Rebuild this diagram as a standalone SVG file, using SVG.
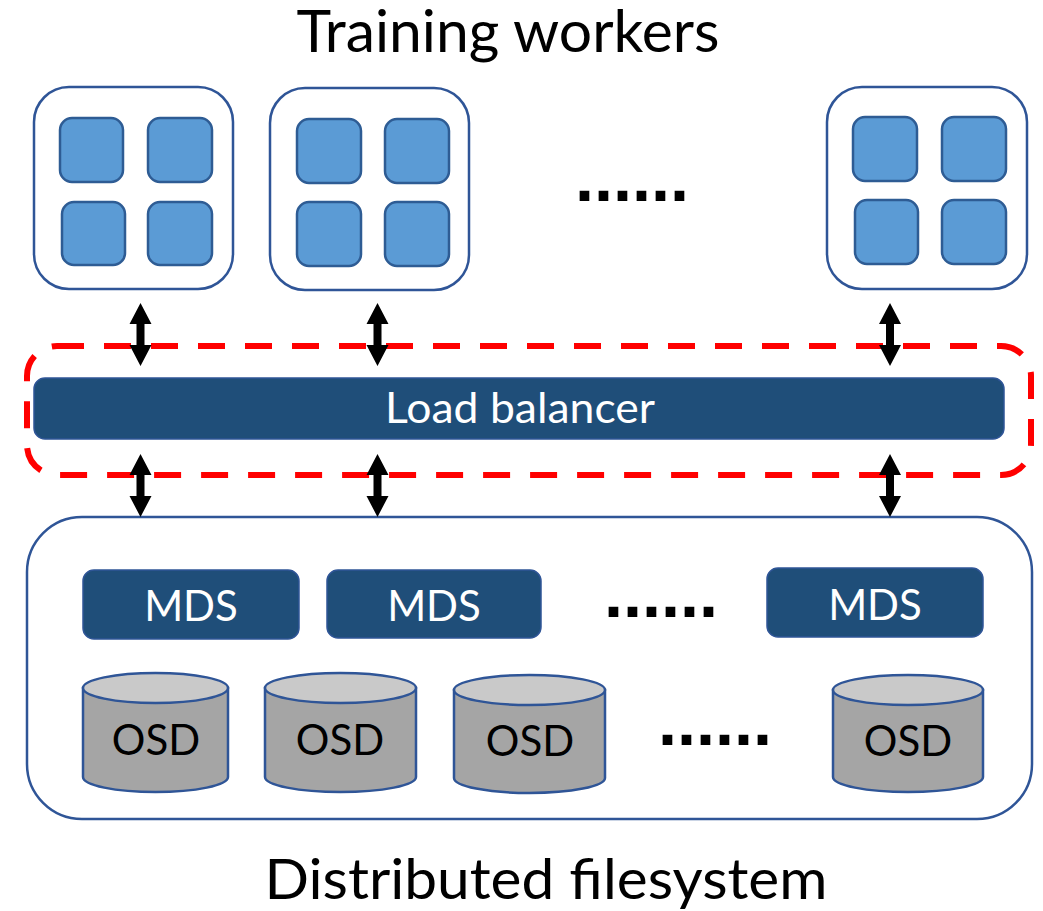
<svg xmlns="http://www.w3.org/2000/svg" width="1043" height="911" viewBox="0 0 1043 911">
  <defs>
    <style>
      .label { font-family: "Lato", "Liberation Sans", sans-serif; text-anchor: middle; }
      .title { font-size: 58px; fill: #000; }
      .caption { font-size: 56px; fill: #000; }
      .white { fill: #fff; font-size: 42px; }
      .dark { fill: #000; font-size: 42px; }
      .dots { font-family: "Liberation Sans", sans-serif; font-weight: bold; font-size: 68px; fill: #000; }
      .worker { fill: #fff; stroke: #2F5597; stroke-width: 2.5; }
      .core { fill: #5B9BD5; stroke: #2E5C94; stroke-width: 2.5; }
      .bar { fill: #1F4E79; stroke: #2F5597; stroke-width: 1.5; }
      .fs { fill: #fff; stroke: #2F5597; stroke-width: 2.5; }
      .cyl-body { fill: #A5A5A5; stroke: #2F5597; stroke-width: 2.5; }
      .cyl-top { fill: #C9C9C9; stroke: #2F5597; stroke-width: 2.5; }
      .group-frame { fill: none; stroke: #FF0000; stroke-width: 6; stroke-dasharray: 27 20; }
    </style>
    <!-- double-headed arrow, 63 px long, centred on x=0, starting at y=0 -->
    <path id="dbl-arrow" d="M0,0 L11,21 L4,21 L4,42 L11,42 L0,63 L-11,42 L-4,42 L-4,21 L-11,21 Z" fill="#000"/>
  </defs>

  <rect width="1043" height="911" fill="#fff"/>

  <text class="label title" x="508" y="52" textLength="423" lengthAdjust="spacingAndGlyphs">Training workers</text>

  <!-- worker nodes -->
  <g id="worker-1">
    <rect class="worker" x="34" y="87" width="199" height="202" rx="35"/>
    <rect class="core" x="60" y="118" width="63" height="64" rx="12"/>
    <rect class="core" x="148" y="118" width="64" height="64" rx="12"/>
    <rect class="core" x="62" y="202" width="63" height="63" rx="12"/>
    <rect class="core" x="148" y="202" width="64" height="63" rx="12"/>
  </g>
  <g id="worker-2">
    <rect class="worker" x="270" y="88" width="199" height="202" rx="35"/>
    <rect class="core" x="297" y="119" width="64" height="64" rx="12"/>
    <rect class="core" x="385" y="119" width="64" height="64" rx="12"/>
    <rect class="core" x="297" y="202" width="64" height="64" rx="12"/>
    <rect class="core" x="385" y="202" width="64" height="64" rx="12"/>
  </g>
  <text class="dots" x="575" y="201" textLength="114" lengthAdjust="spacingAndGlyphs">......</text>
  <g id="worker-n">
    <rect class="worker" x="827" y="87" width="200" height="202" rx="35"/>
    <rect class="core" x="853" y="117" width="64" height="64" rx="12"/>
    <rect class="core" x="942" y="117" width="64" height="64" rx="12"/>
    <rect class="core" x="855" y="200" width="63" height="64" rx="12"/>
    <rect class="core" x="942" y="200" width="64" height="64" rx="12"/>
  </g>

  <!-- load balancer and its dashed grouping frame -->
  <g id="load-balancer">
    <rect class="bar" x="34" y="378" width="970" height="61" rx="11"/>
    <text class="label white" x="520" y="423" textLength="270" lengthAdjust="spacingAndGlyphs">Load balancer</text>
  </g>
  <rect id="balancer-frame" class="group-frame" x="27" y="346" width="1004" height="129" rx="30"/>

  <!-- distributed filesystem -->
  <g id="filesystem">
    <rect class="fs" x="27" y="517" width="1005" height="302" rx="55"/>
  </g>
  <g id="mds-1">
    <rect class="bar" x="83" y="570" width="216" height="69" rx="11"/>
    <text class="label white" x="191" y="621">MDS</text>
  </g>
  <g id="mds-2">
    <rect class="bar" x="327" y="570" width="214" height="68" rx="11"/>
    <text class="label white" x="434" y="621">MDS</text>
  </g>
  <text class="dots" x="604" y="617" textLength="114" lengthAdjust="spacingAndGlyphs">......</text>
  <g id="mds-n">
    <rect class="bar" x="767" y="568" width="216" height="69" rx="11"/>
    <text class="label white" x="875" y="620">MDS</text>
  </g>

  <g id="osd-1">
    <path class="cyl-body" d="M83,688 L83,777 A72.5,15 0 0 0 228,777 L228,688 Z"/>
    <ellipse class="cyl-top" cx="155.5" cy="688" rx="72.5" ry="15"/>
    <text class="label dark" x="156" y="755">OSD</text>
  </g>
  <g id="osd-2">
    <path class="cyl-body" d="M265,688 L265,777 A75.5,15 0 0 0 416,777 L416,688 Z"/>
    <ellipse class="cyl-top" cx="340.5" cy="688" rx="75.5" ry="15"/>
    <text class="label dark" x="340" y="755">OSD</text>
  </g>
  <g id="osd-3">
    <path class="cyl-body" d="M454,690 L454,778 A75.5,15 0 0 0 605,778 L605,690 Z"/>
    <ellipse class="cyl-top" cx="529.5" cy="690" rx="75.5" ry="15"/>
    <text class="label dark" x="530" y="756">OSD</text>
  </g>
  <text class="dots" x="658" y="745" textLength="114" lengthAdjust="spacingAndGlyphs">......</text>
  <g id="osd-n">
    <path class="cyl-body" d="M833,690 L833,777 A75,15 0 0 0 983,777 L983,690 Z"/>
    <ellipse class="cyl-top" cx="908" cy="690" rx="75" ry="15"/>
    <text class="label dark" x="908" y="756">OSD</text>
  </g>

  <text class="label caption" x="546" y="899" textLength="563" lengthAdjust="spacingAndGlyphs">Distributed filesystem</text>

  <!-- connectors -->
  <g id="connectors">
    <use href="#dbl-arrow" x="140.5" y="303"/>
    <use href="#dbl-arrow" x="377.5" y="303"/>
    <use href="#dbl-arrow" x="890" y="303"/>
    <use href="#dbl-arrow" x="140.5" y="454"/>
    <use href="#dbl-arrow" x="377.5" y="454"/>
    <use href="#dbl-arrow" x="890" y="454"/>
  </g>
</svg>
